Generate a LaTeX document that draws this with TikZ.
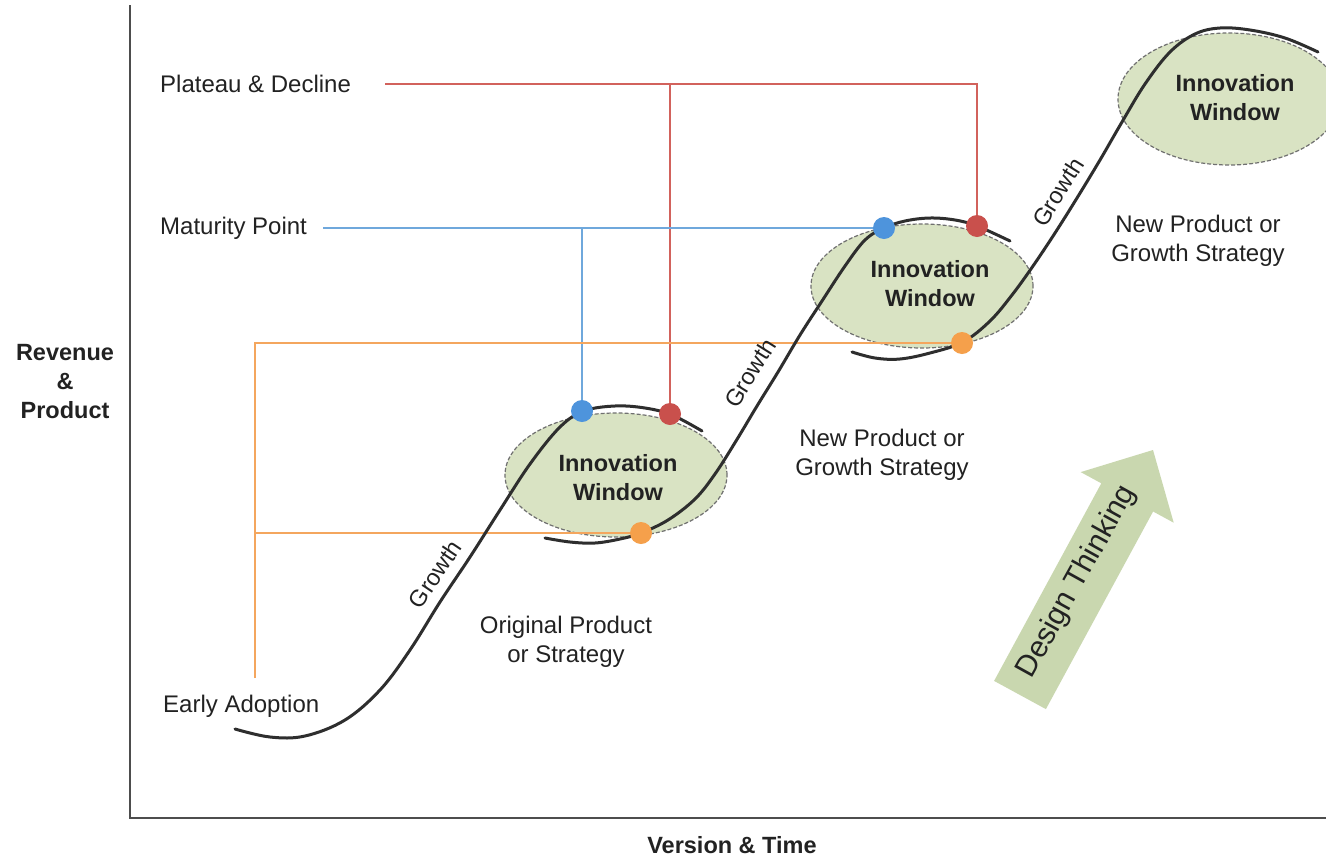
\documentclass[tikz,border=0pt]{standalone}
\usepackage{fontspec}
\setmainfont{Liberation Sans}
\usetikzlibrary{shapes.geometric}
\definecolor{curvec}{HTML}{2E2E2E}
\definecolor{axisc}{HTML}{4D4D4D}
\definecolor{reddot}{HTML}{C9504C}
\definecolor{redln}{HTML}{D2625C}
\definecolor{bluedot}{HTML}{4E94DC}
\definecolor{blueln}{HTML}{6FA8DC}
\definecolor{orgdot}{HTML}{F5A04B}
\definecolor{orgln}{HTML}{F4A65E}
\definecolor{wingreen}{HTML}{D9E3C3}
\definecolor{arrgreen}{HTML}{C9D7AF}
\definecolor{dashgray}{HTML}{707070}
\definecolor{txt}{HTML}{222222}
\begin{document}
\begin{tikzpicture}[x=1pt,y=-1pt,
  lbl/.style={font=\fontsize{24}{29}\selectfont, text=txt, inner sep=0pt, align=center},
  bld/.style={font=\fontsize{23.5}{29}\selectfont\bfseries, text=txt, inner sep=0pt, align=center},
  growlbl/.style={font=\fontsize{23.5}{26}\selectfont, text=txt, inner sep=0pt},
  win/.style={ellipse, draw=dashgray, dash pattern=on 4pt off 2pt, line width=1.2pt, fill=wingreen, minimum width=222pt, minimum height=124pt, inner sep=0pt},
  dot/.style={circle, minimum size=22pt, inner sep=0pt},
  curve/.style={line width=3pt, draw=curvec, line cap=round},
  conn/.style={line width=1.6pt}]
\useasboundingbox (0,0) rectangle (1326,857);
\clip (0,0) rectangle (1326,857);
\fill[white] (0,0) rectangle (1326,857);

% axes
\draw[axisc, line width=2.5pt] (130,5) -- (130,818) -- (1326,818);

% innovation windows
\node[win] (w1) at (616,475) {};
\node[win] (w2) at (922,286) {};
\node[win, minimum height=132pt] (w3) at (1229,99) {};

% design thinking arrow
\fill[arrgreen] (994.1,680.9) -- (1101.3,483.3) -- (1080.7,472.1) -- (1153,450)
  -- (1173.7,522.7) -- (1153.1,511.5) -- (1045.9,709.1) -- cycle;
\node[font=\fontsize{30}{34}\selectfont, text=txt, inner sep=0pt, rotate=61] (dt) at (1077,582) {Design Thinking};

% dots (positions)
\node[dot] (b1) at (582,411) {};
\node[dot] (r1) at (670,414) {};
\node[dot] (o1) at (641,533) {};
\node[dot] (b2) at (884,228) {};
\node[dot] (r2) at (977,226) {};
\node[dot] (o2) at (962,343) {};

% connector start points
\coordinate (plS) at (385,84);
\coordinate (maS) at (323,228);
\coordinate (eaS) at (255,678);

\draw[conn, redln] (plS) -| (r2.center);
\draw[conn, redln] (plS -| r1) -- (r1.center);
\draw[conn, blueln] (maS) -- (b2.center);
\draw[conn, blueln] (maS -| b1) -- (b1.center);
\draw[conn, orgln] (eaS) |- (o2.center);
\draw[conn, orgln] (eaS |- o1) -- (o1.center);

% curves
\draw[curve] plot[smooth, tension=0.6] coordinates {(235,729) (270,737) (305,736) (345,720) (380,690) (410,650) (440,602) (470,557) (500,510) (530,464) (560,427) (584,411) (615,406) (645,408) (672,415) (702,431)};
\draw[curve] plot[smooth, tension=0.6] coordinates {(545,538) (570,542) (595,543) (620,539) (641,533) (668,520) (695,499) (715,474) (736,441) (757,406) (778,372) (800,335) (822,301) (845,266) (865,240) (884,228) (905,221) (930,218) (955,220) (977,226) (1010,241)};
\draw[curve] plot[smooth, tension=0.6] coordinates {(852,352) (875,358) (900,359) (930,353) (963,342) (990,321) (1012,295) (1033,266) (1055,233) (1077,198) (1100,160) (1122,122) (1145,84) (1170,52) (1195,34) (1220,28) (1250,30) (1285,38) (1318,52)};

% dots (drawn)
\fill[bluedot] (b1) circle (11pt);
\fill[reddot] (r1) circle (11pt);
\fill[orgdot] (o1) circle (11pt);
\fill[bluedot] (b2) circle (11pt);
\fill[reddot] (r2) circle (11pt);
\fill[orgdot] (o2) circle (11pt);

% labels
\node[lbl, anchor=base west] (plat) at (160,92) {Plateau \& Decline};
\node[lbl, anchor=base west] (mat) at (160,234) {Maturity Point};
\node[lbl, anchor=base west] (early) at (163,712) {Early Adoption};
\node[lbl] (orig) at (566,642) {Original Product\\or Strategy};
\node[lbl] (np1) at (882,455) {New Product or\\Growth Strategy};
\node[lbl] (np2) at (1198,241) {New Product or\\Growth Strategy};
\node[bld] (rev) at (65,382) {Revenue\\\&\\Product};
\node[bld] (ver) at (732,845) {Version \& Time};

\node[bld] (t1) at (618,478) {Innovation\\Window};
\node[bld] (t2) at (930,284) {Innovation\\Window};
\node[bld] (t3) at (1235,98) {Innovation\\Window};

\node[growlbl, rotate=56] (g1) at (435,574) {Growth};
\node[growlbl, rotate=58] (g2) at (750,373) {Growth};
\node[growlbl, rotate=58] (g3) at (1058,192) {Growth};
\end{tikzpicture}
\end{document}
